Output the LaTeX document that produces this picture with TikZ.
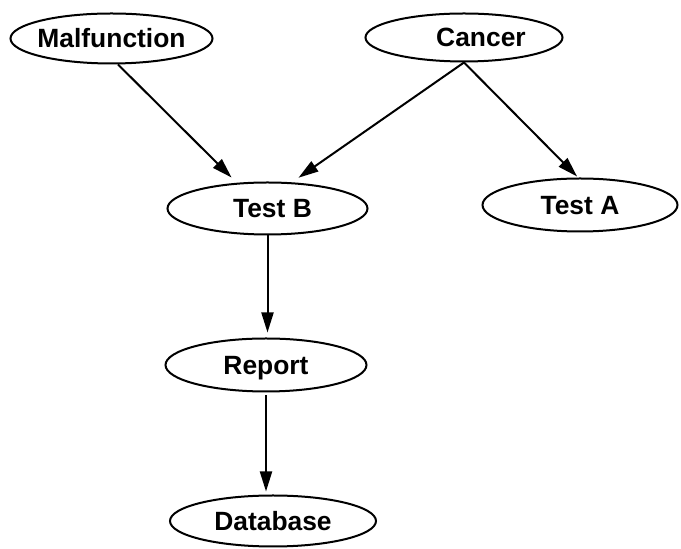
\documentclass[tikz,border=0pt]{standalone}
\usepackage{fontspec}
\setmainfont{Liberation Sans}
\usetikzlibrary{shapes.geometric, arrows.meta}

\begin{document}
\begin{tikzpicture}[x=0.5pt, y=-0.5pt,
  var/.style={ellipse, draw, line width=1pt, inner xsep=-10pt, inner ysep=0pt,
    text height=9.5pt, text depth=0pt, font=\fontsize{13.2}{16}\selectfont\bfseries},
  arr/.style={-{Triangle[length=10pt,width=6pt]}, line width=1pt}]
    \useasboundingbox (0,0) rectangle (681,549);
    % Define the variables
    \node[var, minimum width=101pt, minimum height=25pt] (mal) at (111.5,38.5) {Malfunction\hspace{2.5pt}};
    \node[var, minimum width=98.5pt, minimum height=24pt] (can) at (464,37.5) {\hspace{17pt}Cancer};
    \node[var, minimum width=100pt, minimum height=26pt] (tb) at (267.5,208.5) {\hspace{5pt}Test B};
    \node[var, minimum width=97.5pt, minimum height=26.5pt] (ta) at (580,205) {Test A};
    \node[var, minimum width=100.5pt, minimum height=26.5pt] (rep) at (266,365) {Report};
    \node[var, minimum width=103pt, minimum height=25.5pt] (db) at (273,521) {Database\hspace{11pt}};
    % Dependencies
    \draw[arr, shorten >=3.7pt] (mal.-76) -- (tb.140);
    \draw[arr, shorten >=4pt] (can.south) -- (tb.47);
    \draw[arr, shorten >=0.7pt] (can.south) -- (ta.94);
    \draw[arr, shorten >=2.5pt] (tb.south) -- (tb.south |- rep.north);
    \draw[arr, shorten <=1.5pt, shorten >=1.5pt] (rep.south) -- (rep.south |- db.north);
\end{tikzpicture}
\end{document}
